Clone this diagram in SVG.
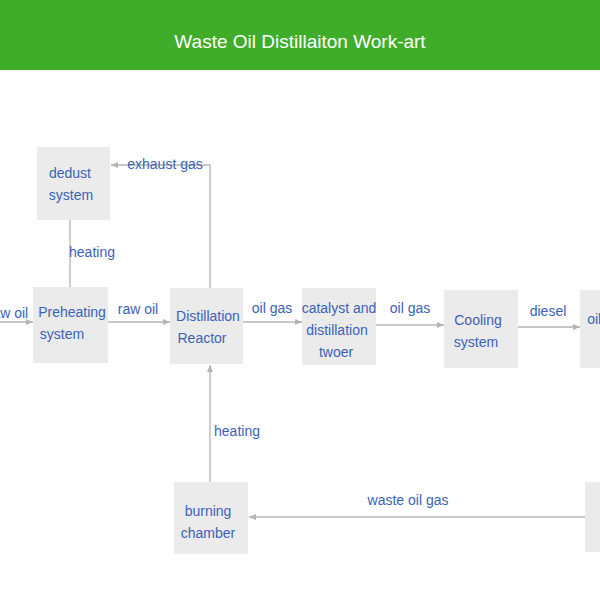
<svg xmlns="http://www.w3.org/2000/svg" width="600" height="600" viewBox="0 0 600 600">
<style>
.b{fill:#ebebeb}
.t{font-family:"Liberation Sans",Arial,sans-serif;font-size:14px;fill:#3b62b8;text-anchor:middle}
.l{stroke:#b4b4b4;stroke-width:1.3;fill:none}
</style>
<defs><marker id="a" markerWidth="8" markerHeight="8" refX="7" refY="4" orient="auto" markerUnits="userSpaceOnUse"><path d="M0,1 L7,4 L0,7 z" fill="#b4b4b4"/></marker></defs>
<rect width="600" height="600" fill="#fff"/>
<rect width="600" height="70" fill="#40ad2a"/>
<text x="300" y="48" font-family="Liberation Sans,Arial,sans-serif" font-size="19" fill="#fff" text-anchor="middle">Waste Oil Distillaiton Work-art</text>
<g id="connectors">
<path class="l" d="M0,322 H33" marker-end="url(#a)"/>
<path class="l" d="M108,322 H170" marker-end="url(#a)"/>
<path class="l" d="M243,322 H302" marker-end="url(#a)"/>
<path class="l" d="M376,325 H444" marker-end="url(#a)"/>
<path class="l" d="M518,327 H580" marker-end="url(#a)"/>
<path class="l" d="M210,288 V165 H111" marker-end="url(#a)"/>
<path class="l" d="M70,220 V287"/>
<path class="l" d="M210,482 V365" marker-end="url(#a)"/>
<path class="l" d="M585,517 H249" marker-end="url(#a)"/>
<text class="t" x="8" y="318">raw oil</text>
<text class="t" x="138" y="314">raw oil</text>
<text class="t" x="272" y="313">oil gas</text>
<text class="t" x="410" y="313">oil gas</text>
<text class="t" x="548" y="316">diesel</text>
<text class="t" x="165" y="169">exhaust gas</text>
<text class="t" x="92" y="257">heating</text>
<text class="t" x="237" y="436">heating</text>
<text class="t" x="408" y="505">waste oil gas</text>
</g>
<g id="dedust"><rect class="b" x="37" y="147" width="73" height="73"/><text class="t" x="70" y="178">dedust</text><text class="t" x="71" y="200">system</text></g>
<g id="preheating"><rect class="b" x="33" y="287" width="75" height="76"/><text class="t" x="72" y="317">Preheating</text><text class="t" x="62" y="339">system</text></g>
<g id="reactor"><rect class="b" x="170" y="288" width="73" height="76"/><text class="t" x="208" y="321">Distillation</text><text class="t" x="202" y="343">Reactor</text></g>
<g id="catalyst"><rect class="b" x="302" y="288" width="74" height="77"/><text class="t" x="339" y="313">catalyst and</text><text class="t" x="337" y="335">distillation</text><text class="t" x="336" y="357">twoer</text></g>
<g id="cooling"><rect class="b" x="444" y="290" width="74" height="78"/><text class="t" x="478" y="325">Cooling</text><text class="t" x="476" y="347">system</text></g>
<g id="oil"><rect class="b" x="580" y="290" width="30" height="78"/><text class="t" x="600" y="324">oil d</text></g>
<g id="burning"><rect class="b" x="174" y="482" width="74" height="72"/><text class="t" x="208" y="516">burning</text><text class="t" x="208" y="538">chamber</text></g>
<g id="right"><rect class="b" x="585" y="482" width="25" height="70"/></g>
</svg>
